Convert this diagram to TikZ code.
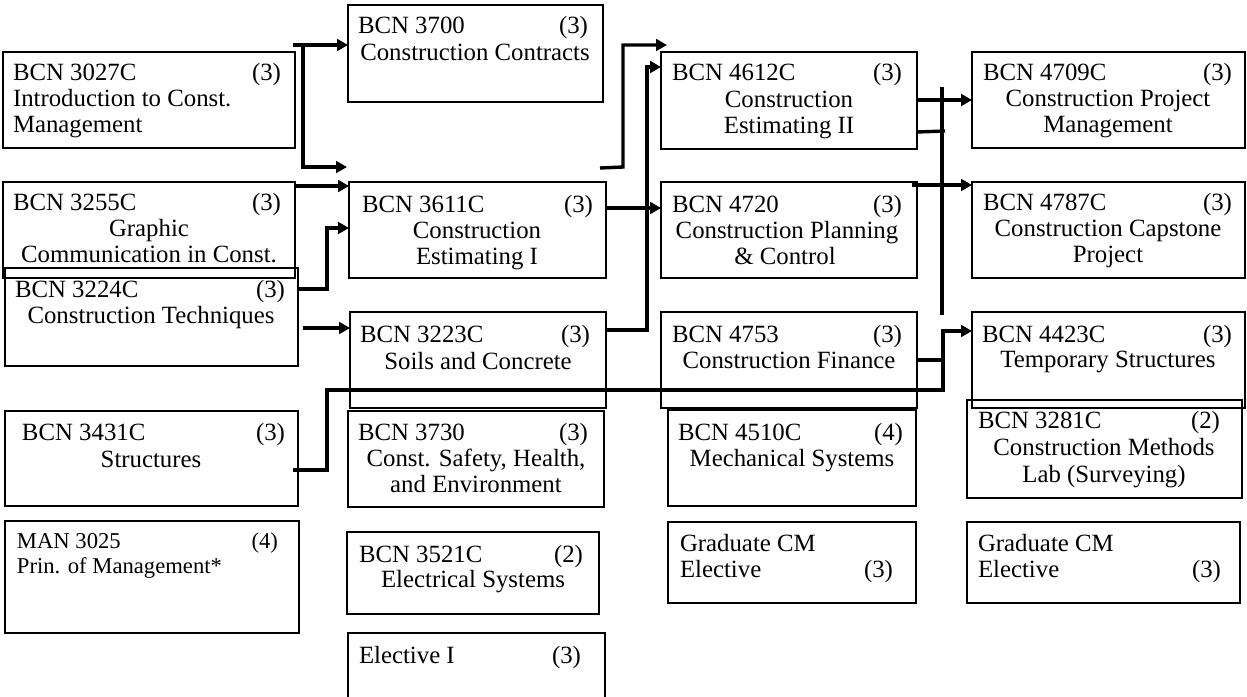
\documentclass[tikz,border=0pt]{standalone}
\usepackage{fontspec}
\setmainfont{Liberation Serif}
\usetikzlibrary{arrows.meta}
\newcommand\cbox[5]{\node[box, minimum width={(#4-#2)*0.645pt}, minimum height={(#5-#3)*0.645pt}] (#1) at (#2,#3) {};}
\begin{document}
\begin{tikzpicture}[x=0.645pt, y=-0.645pt,
  box/.style={draw, line width=0.9pt, anchor=north west, inner sep=0pt, outer sep=0pt},
  txt/.style={inner sep=0pt, outer sep=0pt, font=\fontsize{16}{18}\selectfont},
  tl/.style={txt, anchor=base west},
  tr/.style={txt, anchor=base east},
  tc/.style={txt, anchor=base},
  small/.style={font=\fontsize{14.6}{16}\selectfont},
  conn/.style={line width=2.2pt},
  arr/.style={conn, -{Triangle[length=7pt, width=7.5pt]}}]
\useasboundingbox (0,0) rectangle (1247,697);

% ---------------- column 1 ----------------
\cbox{b3027}{3}{52}{295}{148}
\node[tl] (t1a) at (13,80) {BCN 3027C};
\node[tr] (t1b) at (281,80) {(3)};
\node[tl] (t1c) at (13,106) {Introduction to Const.};
\node[tl] (t1d) at (13,132) {Management};

\cbox{b3255}{3}{182}{295}{278}
\node[tl] (t2a) at (13,210) {BCN 3255C};
\node[tr] (t2b) at (281,210) {(3)};
\node[tc] (t2c) at (149,236) {Graphic};
\node[tc] (t2d) at (149,262) {Communication in Const.};

\cbox{b3224}{5}{268}{298}{366}
\node[tl] (t3a) at (15,297) {BCN 3224C};
\node[tr] (t3b) at (285,297) {(3)};
\node[tc] (t3c) at (151,323) {Construction Techniques};

\cbox{b3431}{5}{411}{298}{506}
\node[tl] (t4a) at (22,440) {BCN 3431C};
\node[tr] (t4b) at (285,440) {(3)};
\node[tc] (t4c) at (151,467) {Structures};

\cbox{bman}{5}{521}{299}{633}
\node[tl, small] (t5a) at (17,548) {MAN 3025};
\node[tr, small] (t5b) at (278,548) {(4)};
\node[tl, small] (t5c) at (17,573) {Prin. of Management*};

% ---------------- column 2 ----------------
\cbox{b3700}{348}{5}{603}{102}
\node[tl] (t6a) at (358,33) {BCN 3700};
\node[tr] (t6b) at (588,33) {(3)};
\node[tc] (t6c) at (475,60) {Construction Contracts};

\cbox{b3611}{349}{182}{606}{278}
\node[tl] (t7a) at (362,212) {BCN 3611C};
\node[tr] (t7b) at (593,212) {(3)};
\node[tc] (t7c) at (477,238) {Construction};
\node[tc] (t7d) at (477,264) {Estimating I};

\cbox{b3223}{350}{312}{606}{408}
\node[tl] (t8a) at (360,342) {BCN 3223C};
\node[tr] (t8b) at (590,342) {(3)};
\node[tc] (t8c) at (478,369) {Soils and Concrete};

\cbox{b3730}{348}{411}{604}{507}
\node[tl] (t9a) at (358,440) {BCN 3730};
\node[tr] (t9b) at (588,440) {(3)};
\node[tc] (t9c) at (476,466) {Const. Safety, Health,};
\node[tc] (t9d) at (476,492) {and Environment};

\cbox{b3521}{347}{532}{599}{614}
\node[tl] (t10a) at (359,562) {BCN 3521C};
\node[tr] (t10b) at (583,562) {(2)};
\node[tc] (t10c) at (473,587) {Electrical Systems};

\cbox{belec}{348}{633}{605}{720}
\node[tl] (t11a) at (359,663) {Elective I};
\node[tr] (t11b) at (581,663) {(3)};

% ---------------- column 3 ----------------
\cbox{b4612}{661}{52}{917}{149}
\node[tl] (t12a) at (672,80) {BCN 4612C};
\node[tr] (t12b) at (902,80) {(3)};
\node[tc] (t12c) at (789,107) {Construction};
\node[tc] (t12d) at (789,133) {Estimating II};

\cbox{b4720}{661}{182}{917}{278}
\node[tl] (t13a) at (672,212) {BCN 4720};
\node[tr] (t13b) at (902,212) {(3)};
\node[tc] (t13c) at (787,238) {Construction Planning};
\node[tc] (t13d) at (785,264) {\& Control};

\cbox{b4753}{661}{312}{917}{408}
\node[tl] (t14a) at (672,342) {BCN 4753};
\node[tr] (t14b) at (902,342) {(3)};
\node[tc] (t14c) at (789,368) {Construction Finance};

\cbox{b4510}{668}{410}{916}{506}
\node[tl] (t15a) at (678,440) {BCN 4510C};
\node[tr] (t15b) at (903,440) {(4)};
\node[tc] (t15c) at (792,466) {Mechanical Systems};

\cbox{bgr1}{668}{522}{916}{603}
\node[tl] (t16a) at (680,551) {Graduate CM};
\node[tl] (t16b) at (680,577) {Elective};
\node[tr] (t16c) at (893,577) {(3)};

% ---------------- column 4 ----------------
\cbox{b4709}{972}{52}{1245}{148}
\node[tl] (t17a) at (983,80) {BCN 4709C};
\node[tr] (t17b) at (1232,80) {(3)};
\node[tc] (t17c) at (1108,106) {Construction Project};
\node[tc] (t17d) at (1108,132) {Management};

\cbox{b4787}{972}{182}{1245}{278}
\node[tl] (t18a) at (983,210) {BCN 4787C};
\node[tr] (t18b) at (1232,210) {(3)};
\node[tc] (t18c) at (1108,236) {Construction Capstone};
\node[tc] (t18d) at (1108,262) {Project};

\cbox{b4423}{972}{312}{1245}{408}
\node[tl] (t19a) at (982,342) {BCN 4423C};
\node[tr] (t19b) at (1232,342) {(3)};
\node[tc] (t19c) at (1108,367) {Temporary Structures};

\cbox{b3281}{967}{400}{1242}{498}
\node[tl] (t20a) at (978,428) {BCN 3281C};
\node[tr] (t20b) at (1220,428) {(2)};
\node[tc] (t20c) at (1104,455) {Construction Methods};
\node[tc] (t20d) at (1104,482) {Lab (Surveying)};

\cbox{bgr2}{967}{522}{1240}{603}
\node[tl] (t21a) at (978,551) {Graduate CM};
\node[tl] (t21b) at (978,577) {Elective};
\node[tr] (t21c) at (1221,577) {(3)};

% ---------------- connectors ----------------
\coordinate (s1) at (293,45);
\coordinate (k1) at (303,45);
\coordinate (e1) at (347,167);
\draw[arr] (s1) -- (b3700.west |- s1);
\draw[arr] (k1) |- (e1);

\draw[arr] (b3255.east |- 0,186) -- (b3611.west |- 0,186);

\draw[arr] (b3224.east |- 0,289) -- (327,289) -- (327,228) -- (b3611.west |- 0,228);

\coordinate (s4) at (303,328);
\draw[arr] (s4) -- (b3223.west |- s4);

\coordinate (s5) at (293,470);
\draw[arr] (s5) -- (327,470) -- (327,390) -- (943,390) -- (943,331) -- (b4423.west |- 0,331);
\draw[conn] (b4753.east |- 0,360) -- (943,360);

\draw[arr] (b3611.east |- 0,208) -- (b4720.west |- 0,208);

\draw[arr] (b3223.east |- 0,330) -- (647,330) -- (647,67) -- (b4612.west |- 0,67);

\coordinate (s9) at (600,168);
\coordinate (e9) at (667,45);
\draw[arr] (s9) -- (623,167) -- (623,45) -- (e9);

\draw[arr] (b4612.east |- 0,100) -- (b4709.west |- 0,100);
\coordinate (e11) at (945,131);
\draw[conn] (b4612.east |- 0,132) -- (e11);

\coordinate (v1) at (942,87);
\coordinate (v2) at (942,315);
\draw[conn] (v1) -- (v2);

\coordinate (s13) at (912,185);
\draw[arr] (s13) -- (b4787.west |- s13);
\end{tikzpicture}
\end{document}
